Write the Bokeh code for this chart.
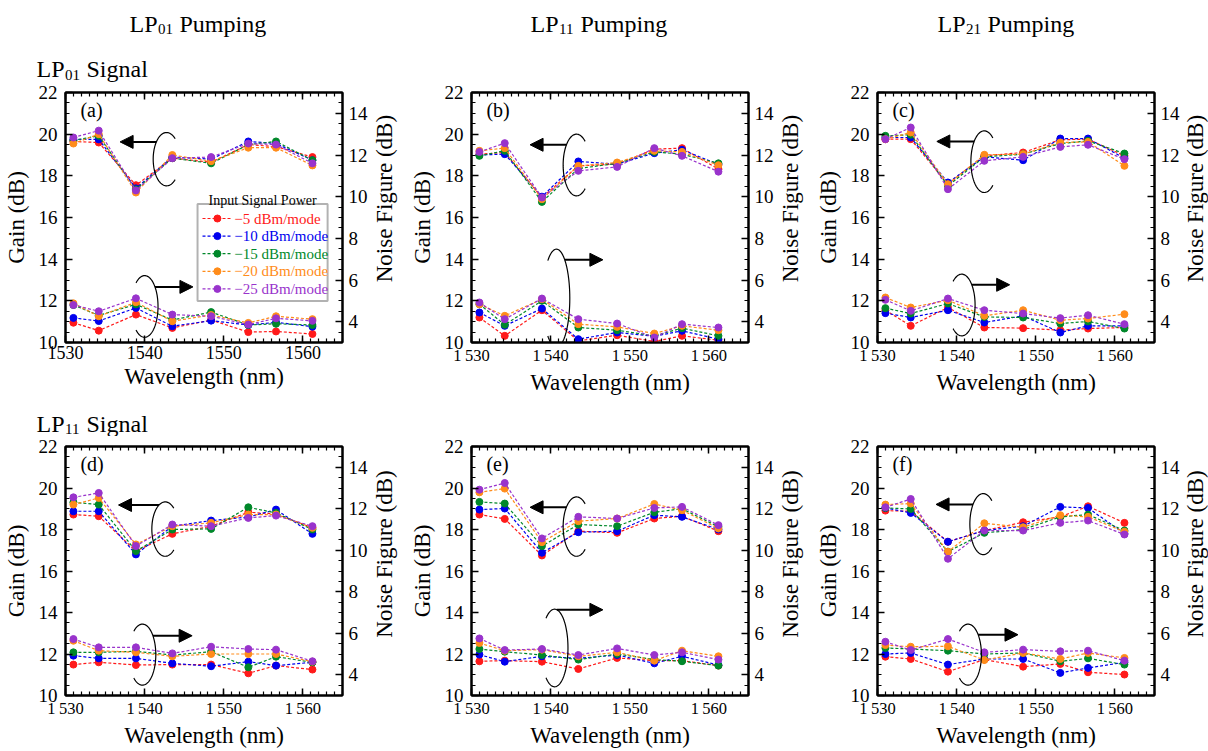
import math
import numpy as np
from bokeh.plotting import figure
from bokeh.models import (Range1d, LinearAxis, SingleIntervalTicker, FixedTicker,
                          Label, Arrow, NormalHead, BoxAnnotation, CustomJSTickFormatter)
from bokeh.layouts import row, column
from bokeh.embed import file_html
from bokeh.resources import INLINE

# ---------------- data ----------------
wavelength = [1531.0, 1534.2, 1538.9, 1543.5, 1548.4, 1553.1, 1556.6, 1561.2]
power_labels = ["\u22125 dBm/mode", "\u221210 dBm/mode", "\u221215 dBm/mode",
                "\u221220 dBm/mode", "\u221225 dBm/mode"]
colors = ["#ff1a1a", "#0000ee", "#00882a", "#ff8c1a", "#9933cc"]

# rows: -5, -10, -15, -20, -25 dBm/mode
gain_a = [[19.65, 19.60, 17.55, 18.85, 18.65, 19.50, 19.40, 18.90],
          [19.75, 19.75, 17.40, 18.90, 18.80, 19.65, 19.55, 18.75],
          [19.70, 19.92, 17.35, 18.85, 18.60, 19.50, 19.65, 18.75],
          [19.55, 20.00, 17.20, 19.00, 18.70, 19.35, 19.35, 18.50],
          [19.84, 20.17, 17.30, 18.85, 18.90, 19.55, 19.50, 18.60]]
nf_a = [[3.95, 3.57, 4.34, 3.70, 4.08, 3.50, 3.53, 3.41],
        [4.18, 4.03, 4.66, 3.78, 4.05, 3.84, 3.97, 3.76],
        [4.80, 4.30, 4.83, 4.08, 4.46, 3.84, 3.90, 3.84],
        [4.88, 4.26, 4.93, 4.02, 4.32, 3.94, 4.26, 4.12],
        [4.80, 4.50, 5.12, 4.34, 4.26, 3.86, 4.16, 4.04]]

gain_b = [[19.04, 19.12, 16.96, 18.48, 18.56, 19.28, 19.33, 18.32],
          [19.00, 19.04, 17.00, 18.69, 18.56, 19.09, 19.25, 18.55],
          [18.96, 19.20, 16.75, 18.35, 18.60, 19.15, 19.04, 18.60],
          [19.20, 19.33, 16.88, 18.48, 18.64, 19.20, 19.15, 18.51],
          [19.15, 19.57, 16.96, 18.24, 18.43, 19.33, 18.96, 18.20]]
nf_b = [[4.20, 3.32, 4.55, 3.08, 3.35, 3.05, 3.32, 3.11],
        [4.44, 3.80, 4.63, 3.16, 3.48, 3.30, 3.56, 3.16],
        [4.84, 3.85, 5.00, 3.72, 3.59, 3.32, 3.69, 3.32],
        [4.84, 4.28, 5.08, 3.88, 3.75, 3.43, 3.80, 3.59],
        [4.92, 4.12, 5.11, 4.12, 3.91, 3.24, 3.88, 3.72]]

gain_c = [[19.76, 19.76, 17.60, 18.96, 19.12, 19.73, 19.76, 18.96],
          [19.84, 19.84, 17.68, 18.91, 18.75, 19.79, 19.79, 18.85],
          [19.92, 19.97, 17.52, 18.91, 19.04, 19.55, 19.68, 19.07],
          [19.76, 20.08, 17.60, 19.01, 19.04, 19.60, 19.63, 18.48],
          [19.76, 20.32, 17.36, 18.72, 18.91, 19.39, 19.49, 18.80]]
nf_c = [[4.55, 3.80, 4.68, 3.72, 3.69, 3.59, 3.67, 3.72],
        [4.41, 4.20, 4.55, 3.96, 4.28, 3.48, 3.80, 3.80],
        [4.65, 4.39, 4.87, 4.23, 4.20, 3.91, 4.01, 3.67],
        [5.16, 4.68, 5.03, 4.28, 4.55, 4.07, 4.15, 4.36],
        [5.05, 4.52, 5.11, 4.55, 4.39, 4.17, 4.31, 3.88]]

gain_d = [[18.72, 18.64, 16.96, 17.79, 18.16, 18.83, 18.75, 18.08],
          [18.88, 18.88, 16.80, 18.16, 18.43, 18.60, 18.96, 17.79],
          [19.31, 19.20, 16.96, 18.00, 18.03, 19.07, 18.80, 18.00],
          [19.20, 19.52, 17.28, 18.16, 18.32, 18.72, 18.72, 18.08],
          [19.55, 19.76, 17.20, 18.24, 18.16, 18.56, 18.67, 18.16]]
nf_d = [[4.49, 4.60, 4.47, 4.49, 4.49, 4.07, 4.44, 4.25],
        [4.92, 4.79, 4.79, 4.55, 4.41, 4.63, 4.44, 4.60],
        [5.08, 5.08, 5.13, 4.95, 5.11, 4.36, 4.87, 4.60],
        [5.64, 5.16, 5.08, 4.89, 5.00, 5.00, 5.00, 4.63],
        [5.72, 5.32, 5.32, 5.03, 5.35, 5.24, 5.21, 4.65]]

gain_e = [[18.72, 18.51, 16.75, 17.92, 17.84, 18.53, 18.64, 17.92],
          [18.96, 19.01, 16.88, 17.87, 17.92, 18.69, 18.61, 18.00],
          [19.33, 19.25, 17.20, 18.24, 18.16, 18.83, 19.00, 18.13],
          [19.79, 19.97, 17.39, 18.40, 18.53, 19.23, 18.93, 18.05],
          [19.92, 20.24, 17.57, 18.61, 18.53, 19.04, 19.09, 18.21]]
nf_e = [[4.65, 4.68, 4.63, 4.28, 4.81, 4.68, 4.68, 4.44],
        [4.97, 4.63, 4.89, 4.79, 4.95, 4.55, 4.89, 4.47],
        [5.24, 5.11, 4.95, 4.73, 5.00, 4.73, 4.65, 4.44],
        [5.53, 5.16, 5.21, 4.89, 5.08, 4.68, 5.16, 4.89],
        [5.75, 5.19, 5.24, 4.95, 5.27, 4.95, 5.08, 4.73]]

gain_f = [[18.91, 18.88, 17.41, 17.95, 18.35, 18.61, 19.12, 18.32],
          [19.04, 18.80, 17.41, 17.95, 18.16, 19.09, 19.04, 17.80],
          [19.04, 18.99, 16.93, 17.84, 18.00, 18.61, 18.72, 17.95],
          [19.20, 19.25, 16.93, 18.30, 18.11, 18.69, 18.61, 17.89],
          [19.07, 19.47, 16.59, 17.95, 17.95, 18.32, 18.43, 17.76]]
nf_f = [[4.87, 4.76, 4.15, 4.73, 4.39, 4.52, 4.12, 4.01],
        [5.00, 5.05, 4.49, 4.76, 4.76, 4.09, 4.33, 4.60],
        [5.29, 5.24, 5.16, 5.00, 5.05, 4.65, 4.79, 4.49],
        [5.43, 5.35, 5.37, 4.71, 5.05, 4.76, 5.05, 4.81],
        [5.59, 5.19, 5.72, 5.08, 5.21, 5.13, 5.16, 4.68]]

x_major = [1530, 1540, 1550, 1560]
pumping_titles = [("LP", "01", "Pumping"), ("LP", "11", "Pumping"), ("LP", "21", "Pumping")]
signal_titles = [("LP", "01", "Signal"), ("LP", "11", "Signal")]
panel_tags = ["(a)", "(b)", "(c)", "(d)", "(e)", "(f)"]
nf_axis_label = "Noise Figure (dB)"

# ---------------- style / layout ----------------
FONT = "Liberation Serif"
X0, X1 = 1530, 1565
G0, G1 = 10, 22
N0, N1 = 3, 15
PAGE_W = 1208
FRAME_W = 279
PANEL_W = 370
STRIP_W = [36, 36, 26]
STRIP_X = [13.5, 13.5, 13.2]
COL_LEFT = [0, 406, 812]
HEAD_H = 82      # header strip above row 1
MID_H = 36       # strip between rows
ROW_H = [318, 314]
ROW_TOP = [HEAD_H, HEAD_H + 318 + MID_H]
BORDER_TOP = [10, 10]
BORDER_BOT = [58, 53]
BORDER_LEFT = 65
RX = 1.69  # ellipse half-width in nm

# annotation geometry per panel (data units)
ANN = [
    dict(ux=1542.77, uy=18.80, ury=1.28, uay=19.63, uax=1536.9, lx=1540.00, ly=11.73, lry=1.48, lay=12.67, lax=1546.1),
    dict(ux=1543.27, uy=18.52, ury=1.48, uay=19.49, uax=1537.4, lx=1540.73, ly=12.12, lry=2.36, lay=13.97, lax=1546.6),
    dict(ux=1543.49, uy=18.68, ury=1.48, uay=19.65, uax=1537.5, lx=1540.64, ly=11.80, lry=1.48, lay=12.77, lax=1546.7),
    dict(ux=1542.60, uy=18.02, ury=1.31, uay=19.18, uax=1536.7, lx=1539.72, ly=11.97, lry=1.47, lay=12.88, lax=1546.0),
    dict(ux=1543.27, uy=18.14, ury=1.43, uay=19.07, uax=1537.4, lx=1540.50, ly=12.29, lry=1.87, lay=14.13, lax=1546.6),
    dict(ux=1543.36, uy=18.26, ury=1.47, uay=19.21, uax=1537.4, lx=1541.44, ly=11.97, lry=1.47, lay=12.93, lax=1547.75),
]


def style_axis(ax, tick_size):
    ax.axis_line_width = 2
    ax.axis_line_color = "black"
    ax.major_tick_in = 7
    ax.major_tick_out = 0
    ax.minor_tick_in = 4
    ax.minor_tick_out = 0
    ax.major_tick_line_width = 1.5
    ax.minor_tick_line_width = 1.2
    ax.major_tick_line_color = "black"
    ax.minor_tick_line_color = "black"
    ax.major_label_text_font = FONT
    ax.major_label_text_color = "black"
    ax.major_label_text_font_size = tick_size
    ax.axis_label_text_font = FONT
    ax.axis_label_text_font_size = "23px"
    ax.axis_label_text_font_style = "normal"
    ax.axis_label_text_color = "black"


def text_strip(width, height):
    """A blank figure whose data coordinates equal pixels inside the strip (y downward)."""
    p = figure(width=width, height=height, x_range=Range1d(0, width), y_range=Range1d(height, 0),
               x_axis_type=None, y_axis_type=None, output_backend="svg", toolbar_location=None,
               min_border_left=0, min_border_right=0, min_border_top=0, min_border_bottom=0,
               background_fill_color="white", border_fill_color="white", outline_line_color=None)
    p.xgrid.visible = False
    p.ygrid.visible = False
    return p


def sub_title(p, px, py, parts):
    main, sub, rest = parts
    for dx, dy, s, size in [(0, 0, main, "24px"), (28.5, 5.5, sub, "15px"), (50, 0, rest, "24px")]:
        p.add_layout(Label(x=px + dx, y=py + dy, text=s, text_font=FONT, text_font_size=size,
                           text_color="black", text_align="left", text_baseline="alphabetic"))


def make_panel(r, c, gain, nf, k):
    fh = ROW_H[r] - BORDER_TOP[r] - BORDER_BOT[r]
    p = figure(width=PANEL_W, height=ROW_H[r],
               x_range=Range1d(X0, X1), y_range=Range1d(G0, G1),
               output_backend="svg", toolbar_location=None,
               min_border_left=BORDER_LEFT, min_border_right=PANEL_W - BORDER_LEFT - FRAME_W,
               min_border_top=BORDER_TOP[r], min_border_bottom=BORDER_BOT[r],
               background_fill_color="white", border_fill_color="white",
               outline_line_color="black", outline_line_width=2)
    p.xgrid.visible = False
    p.ygrid.visible = False
    p.extra_y_ranges = {"nf": Range1d(N0, N1)}

    bx = p.xaxis[0]
    bx.ticker = FixedTicker(ticks=x_major, minor_ticks=list(range(X0, X1 + 1)))
    bx.axis_label = "Wavelength (nm)"
    bx.major_label_standoff = 3
    bx.axis_label_standoff = 2
    if k == 0:
        style_axis(bx, "18px")
    else:
        style_axis(bx, "16.5px")
        bx.formatter = CustomJSTickFormatter(
            code="var s = String(Math.round(tick)); return s.slice(0,1) + '\u2009' + s.slice(1);")

    ly = p.yaxis[0]
    ly.ticker = SingleIntervalTicker(interval=2, num_minor_ticks=4)
    ly.axis_label = "Gain (dB)"
    ly.major_label_standoff = 8
    ly.axis_label_standoff = 7
    style_axis(ly, "19px")

    ry = LinearAxis(y_range_name="nf", ticker=SingleIntervalTicker(interval=2, num_minor_ticks=4))
    ry.major_label_standoff = 6
    style_axis(ry, "19px")
    p.add_layout(ry, "right")

    tx = LinearAxis(ticker=FixedTicker(ticks=x_major, minor_ticks=list(range(X0, X1 + 1))),
                    formatter=CustomJSTickFormatter(code="return '';"))
    style_axis(tx, "6px")
    tx.major_label_standoff = 0
    p.add_layout(tx, "above")

    for i in range(5):
        col = colors[i]
        p.line(wavelength, gain[i], line_color=col, line_dash="3 2", line_width=1.2)
        p.scatter(wavelength, gain[i], size=7, fill_color=col, line_color=col)
        p.line(wavelength, nf[i], y_range_name="nf", line_color=col, line_dash="3 2", line_width=1.2)
        p.scatter(wavelength, nf[i], y_range_name="nf", size=7, fill_color=col, line_color=col)

    # ellipses and arrows
    a = ANN[k]
    t = np.radians(np.linspace(50, 310, 80))
    p.line(a["ux"] + RX * np.cos(t), a["uy"] + a["ury"] * np.sin(t), line_color="black", line_width=1.2)
    t = np.radians(np.linspace(-130, 130, 80))
    p.line(a["lx"] + RX * np.cos(t), a["ly"] + a["lry"] * np.sin(t), line_color="black", line_width=1.2)
    du = min(abs(a["uay"] - a["uy"]) / a["ury"], 0.99)
    xs_u = a["ux"] - RX * np.sqrt(1 - du ** 2)
    dl = min(abs(a["lay"] - a["ly"]) / a["lry"], 0.99)
    xs_l = a["lx"] + RX * np.sqrt(1 - dl ** 2)
    for xs, y, xe in [(xs_u, a["uay"], a["uax"]), (xs_l, a["lay"], a["lax"])]:
        p.add_layout(Arrow(end=NormalHead(size=13, fill_color="black", line_color="black"),
                           x_start=xs, y_start=y, x_end=xe, y_end=y,
                           line_width=2, line_color="black"))

    # pixel -> data helpers (page pixels)
    fl = COL_LEFT[c] + BORDER_LEFT
    ft = ROW_TOP[r] + BORDER_TOP[r]

    def X(px):
        return X0 + (px - fl) * (X1 - X0) / FRAME_W

    def Y(py):
        return G1 - (py - ft) * (G1 - G0) / fh

    def txt(px, py, s, size, align="left", baseline="alphabetic", color="black"):
        p.add_layout(Label(x=X(px), y=Y(py), text=s, text_font=FONT, text_font_size=size,
                           text_color=color, text_align=align, text_baseline=baseline))

    txt(fl + 15, ft + 17.5, panel_tags[k], "20px", baseline="middle")

    # legend (panel a)
    if k == 0:
        p.add_layout(BoxAnnotation(left=X(198), right=X(329), top=Y(203.5), bottom=Y(300.5),
                                   fill_alpha=0, line_color="black", line_width=2))
        txt(263.5, 200, "Input Signal Power", "14px", align="center")
        for i in range(5):
            yy = Y(218 + i * 17.6)
            p.line([X(203), X(233)], [yy, yy], line_color=colors[i], line_dash="3 2", line_width=1.2)
            p.scatter([X(218)], [yy], size=7, fill_color=colors[i], line_color=colors[i])
            txt(235, 218 + i * 17.6, power_labels[i], "15px", baseline="middle", color=colors[i])
    return p


def nf_strip(r, c):
    s = text_strip(STRIP_W[c], ROW_H[r])
    fh = ROW_H[r] - BORDER_TOP[r] - BORDER_BOT[r]
    s.add_layout(Label(x=STRIP_X[c], y=BORDER_TOP[r] + fh / 2, text=nf_axis_label,
                       angle=math.pi / 2, text_font=FONT, text_font_size="23px", text_color="black",
                       text_align="center", text_baseline="middle"))
    return s


gains = [gain_a, gain_b, gain_c, gain_d, gain_e, gain_f]
nfs = [nf_a, nf_b, nf_c, nf_d, nf_e, nf_f]
rows = []
for r in range(2):
    items = []
    for c in range(3):
        k = 3 * r + c
        items.append(make_panel(r, c, gains[k], nfs[k], k))
        items.append(nf_strip(r, c))
    rows.append(row(*items))

head = text_strip(PAGE_W, HEAD_H)
for c, x0 in enumerate([129, 530, 937]):
    sub_title(head, x0, 23.3, pumping_titles[c])
sub_title(head, 36, 68.8, signal_titles[0])

mid = text_strip(PAGE_W, MID_H)
sub_title(mid, 36, 23.3, signal_titles[1])

layout = column(head, rows[0], mid, rows[1])
open("out.html", "w").write(file_html(layout, INLINE))
